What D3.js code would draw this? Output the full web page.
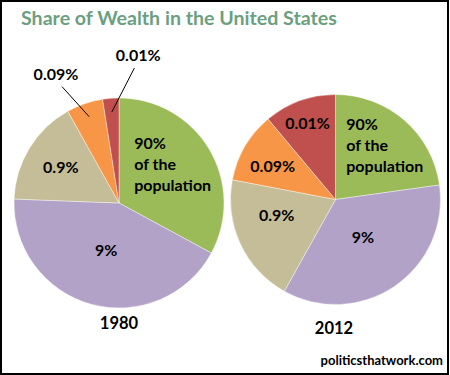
<!DOCTYPE html>
<html><head><meta charset="utf-8">
<script src="https://cdn.jsdelivr.net/npm/d3@7"></script>
<style>
html,body{margin:0;padding:0;background:#fff;}
svg{display:block;}
text{font-family:Lato,"Open Sans",sans-serif;font-weight:bold;}
</style></head>
<body>
<svg id="chart" width="450" height="375"></svg>
<script>
// ---- data ----
const groups = ["90% of the population", "9%", "0.9%", "0.09%", "0.01%"];
const groupLabels = [["90%", "of the", "population"], ["9%"], ["0.9%"], ["0.09%"], ["0.01%"]];
const years = ["1980", "2012"];
const share1980 = [32.9, 42.7, 16.3, 5.6, 2.5];
const share2012 = [22.8, 35.3, 19.9, 10.9, 11.1];
const title = "Share of Wealth in the United States";
const source = "politicsthatwork.com";

// ---- styling / layout ----
const colors = ["#9BBB59", "#B2A2C7", "#C4BD97", "#F79646", "#C0504D"];
const W = 450, H = 375, R = 105;
const pieCenters = [[119, 203], [335.5, 199.5]];
// label placement per pie: radius fraction and angle shift (deg); outside labels flagged
const labelLayout = [
  [{r:0.63, a:-5, block:true}, {r:0.46, a:0}, {r:0.65, a:0}, {out:true, r:1.3, a:-7}, {out:true, r:1.36, a:11}],
  [{r:0.70, a:1, block:true}, {r:0.44, a:-2}, {r:0.58, a:10}, {r:0.68, a:-2}, {r:0.78, a:0}]
];

const svg = d3.select("#chart");
svg.append("rect").attr("x",1).attr("y",1).attr("width",447).attr("height",373)
  .attr("fill","#fff").attr("stroke","#000").attr("stroke-width",2);

svg.append("text").attr("x",21).attr("y",25).attr("fill","#6b9f80")
  .style("font-size","19.6px").text(title);

const pie = d3.pie().sort(null).value(d => d);
const arc = d3.arc().innerRadius(0).outerRadius(R);
const rad = Math.PI/180;
function pt(angle, r){ return [Math.sin(angle)*r, -Math.cos(angle)*r]; }

[share1980, share2012].forEach((vals, pi) => {
  const g = svg.append("g").attr("transform", `translate(${pieCenters[pi][0]},${pieCenters[pi][1]})`);
  const arcs = pie(vals);
  g.selectAll("path").data(arcs).join("path")
    .attr("d", arc).attr("fill", (d,i) => colors[i])
    .attr("stroke", "rgba(255,255,255,0.5)").attr("stroke-width", 0.8);

  arcs.forEach((d, i) => {
    const L = labelLayout[pi][i];
    const mid = (d.startAngle + d.endAngle)/2;
    const lines = groupLabels[i];
    if (L.out) {
      const a0 = pt(mid, R*0.87);
      const a1 = pt(mid + L.a*rad, R*L.r - 7);
      g.append("line").attr("x1",a0[0]).attr("y1",a0[1]).attr("x2",a1[0]).attr("y2",a1[1])
        .attr("stroke","#000").attr("stroke-width",1);
      const tp = pt(mid + L.a*rad, R*L.r);
      const t = [tp[0] + (i===3 ? -3 : 3), tp[1] - 6];
      g.append("text").attr("x", t[0]).attr("y", t[1] + 6).attr("text-anchor","middle")
        .style("font-size","16px").attr("fill","#000").text(lines[0]);
    } else if (L.block) {
      const c = pt(mid + L.a*rad, R*L.r);
      const lh = 21;
      const tx = g.append("text").style("font-size","16px").attr("fill","#000");
      const total = lines.length;
      lines.forEach((s, k) => {
        tx.append("tspan").attr("x", 0).attr("y", c[1] + (k - (total-1)/2)*lh + 6).text(s);
      });
      const w = tx.node().getBBox().width;
      tx.selectAll("tspan").attr("x", c[0] - w/2);
    } else {
      const c = pt(mid + L.a*rad, R*L.r);
      g.append("text").attr("x", c[0]).attr("y", c[1] + 6).attr("text-anchor","middle")
        .style("font-size","16px").attr("fill","#000").text(lines[0]);
    }
  });
});

svg.append("text").attr("x",119).attr("y",329).attr("text-anchor","middle")
  .style("font-size","16.5px").text(years[0]);
svg.append("text").attr("x",334).attr("y",333.5).attr("text-anchor","middle")
  .style("font-size","16.5px").text(years[1]);
svg.append("text").attr("x",443).attr("y",365).attr("text-anchor","end")
  .style("font-size","13px").text(source);
</script>
</body></html>
